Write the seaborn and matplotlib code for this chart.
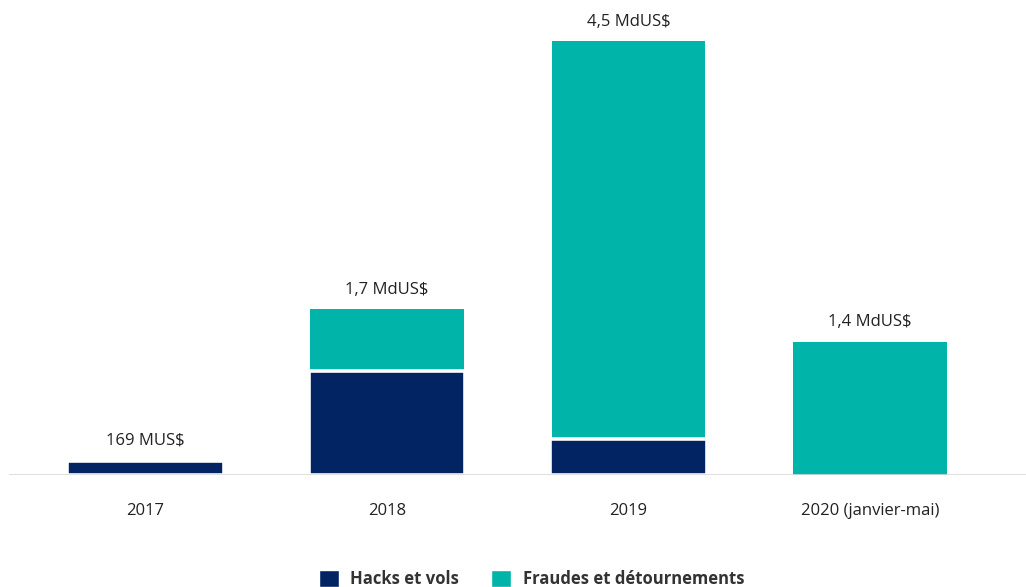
import pandas as pd
import numpy as np
import matplotlib
matplotlib.use('Agg')
import matplotlib.pyplot as plt
from matplotlib.patches import Patch
import seaborn as sns

# data (milliards de US$)
annees = ['2017', '2018', '2019', '2020 (janvier-mai)']
hacks = [0.15, 1.08, 0.37, 0.0]
fraudes = [0.0, 0.64, 4.13, 1.38]
etiquettes = ['169 MUS$', '1,7 MdUS$', '4,5 MdUS$', '1,4 MdUS$']

navy = '#022463'
teal = '#00B4AA'

sns.set_theme(style='white')
plt.rcParams['font.family'] = ['Open Sans', 'DejaVu Sans']

df = pd.DataFrame({'annee': annees, 'hacks': hacks, 'fraudes': fraudes})
df['total'] = df['hacks'] + df['fraudes']

fig = plt.figure(figsize=(10.26, 5.87), dpi=100)
ax = fig.add_axes([9 / 1026, 112 / 587, 1 - 9 / 1026, 475 / 587])

# total first (teal), hacks drawn over it from zero (navy) with a white edge for the gap
sns.barplot(data=df, x='annee', y='total', color=teal, width=0.634,
            saturation=1, linewidth=0, ax=ax)
sns.barplot(data=df[df['hacks'] > 0], x='annee', y='hacks', color=navy, width=0.649,
            saturation=1, edgecolor='white', linewidth=2.6, ax=ax, order=annees)

ax.axhline(0, color='#d9d9d9', lw=1.2, zorder=5)

for i, (t, lab) in enumerate(zip(df['total'], etiquettes)):
    ax.text(i, t + 0.12, lab, ha='center', va='bottom', fontsize=12, color='#222222')

ax.set_xlim(-0.565, 3.646)
ax.set_ylim(0, 4.927)
ax.set_xlabel('')
ax.set_ylabel('')
ax.set_yticks([])
ax.tick_params(axis='x', length=0, pad=20, labelsize=12, labelcolor='#222222')
sns.despine(ax=ax, left=True, bottom=True)

handles = [Patch(facecolor=navy, label='Hacks et vols'),
           Patch(facecolor=teal, label='Fraudes et détournements')]
leg = fig.legend(handles=handles, loc='center', bbox_to_anchor=(0.518, 0.014),
                 ncol=2, frameon=False, handlelength=1.2, handleheight=1.2,
                 handletextpad=0.7, columnspacing=1.9,
                 prop={'size': 12, 'weight': 'bold'})
for t in leg.get_texts():
    t.set_color('#333333')

fig.savefig('out.png', dpi=100)
